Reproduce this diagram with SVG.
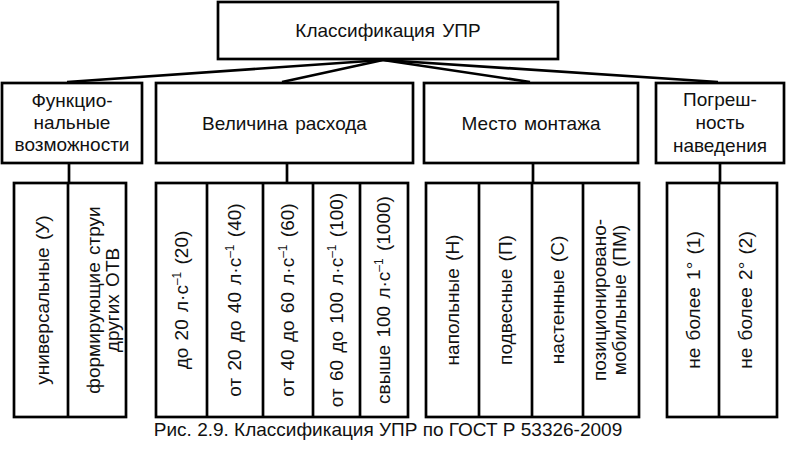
<svg xmlns="http://www.w3.org/2000/svg" width="786" height="449" viewBox="0 0 786 449">
<style>
.b{fill:#fff;stroke:#000;stroke-width:2.7}
.d{stroke:#000;stroke-width:2.7;fill:none}
.c{stroke:#000;stroke-width:2.7;fill:none}
text{font-family:"Liberation Sans",Arial,sans-serif;font-size:19px;fill:#111;text-anchor:middle;word-spacing:2px}
.sup{font-size:12px}
</style>
<rect width="786" height="449" fill="#fff"/>
<g id="connectors">
<line class="c" x1="383" y1="60" x2="67" y2="82"/>
<line class="c" x1="383" y1="60" x2="282" y2="82"/>
<line class="c" x1="383" y1="60" x2="530" y2="82"/>
<line class="c" x1="383" y1="60" x2="718" y2="82"/>
<line class="c" x1="69" y1="163" x2="69" y2="184"/>
<line class="c" x1="287" y1="163" x2="287" y2="184"/>
<line class="c" x1="533" y1="163" x2="533" y2="184"/>
<line class="c" x1="720" y1="163" x2="720" y2="184"/>
</g>
<g id="root">
<rect class="b" x="218" y="2" width="340" height="57"/>
<text x="388" y="37">Классификация УПР</text>
</g>
<g id="func">
<rect class="b" x="2" y="83" width="140" height="80"/>
<text x="72" y="107">Функцио-</text>
<text x="72" y="129">нальные</text>
<text x="72" y="151">возможности</text>
</g>
<g id="rashod">
<rect class="b" x="156" y="83" width="257" height="80"/>
<text x="284.5" y="130">Величина расхода</text>
</g>
<g id="montazh">
<rect class="b" x="424" y="83" width="214" height="80"/>
<text x="531" y="130">Место монтажа</text>
</g>
<g id="pogr">
<rect class="b" x="656" y="83" width="128" height="80"/>
<text x="720" y="106">Погреш-</text>
<text x="720" y="129">ность</text>
<text x="720" y="152">наведения</text>
</g>
<g id="func-items">
<rect class="b" x="14" y="183" width="112" height="234"/>
<line class="d" x1="68" y1="183" x2="68" y2="417"/>
<text transform="translate(49,300) rotate(-90)">универсальные (У)</text>
<text transform="translate(100,300) rotate(-90)">формирующие струи</text>
<text transform="translate(119,300) rotate(-90)">других ОТВ</text>
</g>
<g id="rashod-items">
<rect class="b" x="156" y="183" width="252" height="234"/>
<line class="d" x1="207" y1="183" x2="207" y2="417"/>
<line class="d" x1="263" y1="183" x2="263" y2="417"/>
<line class="d" x1="313" y1="183" x2="313" y2="417"/>
<line class="d" x1="360" y1="183" x2="360" y2="417"/>
<text transform="translate(188,300) rotate(-90)">до 20 л·с<tspan class="sup" dy="-7">–1</tspan><tspan dy="7"> (20)</tspan></text>
<text transform="translate(241,300) rotate(-90)">от 20 до 40 л·с<tspan class="sup" dy="-7">–1</tspan><tspan dy="7"> (40)</tspan></text>
<text transform="translate(294,300) rotate(-90)">от 40 до 60 л·с<tspan class="sup" dy="-7">–1</tspan><tspan dy="7"> (60)</tspan></text>
<text transform="translate(343,300) rotate(-90)">от 60 до 100 л·с<tspan class="sup" dy="-7">–1</tspan><tspan dy="7"> (100)</tspan></text>
<text transform="translate(390,300) rotate(-90)">свыше 100 л·с<tspan class="sup" dy="-7">–1</tspan><tspan dy="7"> (1000)</tspan></text>
</g>
<g id="montazh-items">
<rect class="b" x="426" y="183" width="213" height="234"/>
<line class="d" x1="479" y1="183" x2="479" y2="417"/>
<line class="d" x1="532" y1="183" x2="532" y2="417"/>
<line class="d" x1="583" y1="183" x2="583" y2="417"/>
<text transform="translate(459,300) rotate(-90)">напольные (Н)</text>
<text transform="translate(512,300) rotate(-90)">подвесные (П)</text>
<text transform="translate(564,300) rotate(-90)">настенные (С)</text>
<text transform="translate(606,300) rotate(-90)">позиционировано-</text>
<text transform="translate(626,300) rotate(-90)">мобильные (ПМ)</text>
</g>
<g id="pogr-items">
<rect class="b" x="667" y="183" width="110" height="234"/>
<line class="d" x1="719" y1="183" x2="719" y2="417"/>
<text transform="translate(700,300) rotate(-90)">не более 1° (1)</text>
<text transform="translate(752,300) rotate(-90)">не более 2° (2)</text>
</g>
<g id="caption">
<text x="388" y="436" style="word-spacing:0">Рис. 2.9. Классификация УПР по ГОСТ Р 53326-2009</text>
</g>
</svg>
